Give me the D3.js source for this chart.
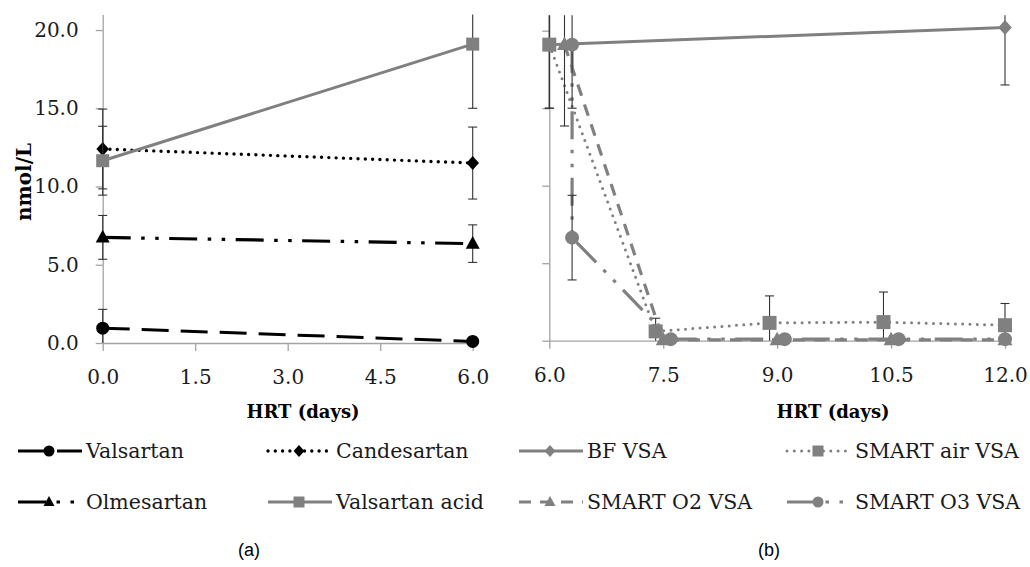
<!DOCTYPE html>
<html>
<head>
<meta charset="utf-8">
<script src="https://cdn.jsdelivr.net/npm/d3@7"></script>
<style>
body { margin: 0; background: #fff; }
svg { display: block; }
.axis path, .axis line { stroke: #a3a3a3; stroke-width: 1.3; }
.axis text { font-family: "DejaVu Serif", serif; font-size: 20px; fill: #1a1a1a; }
</style>
</head>
<body>
<svg id="chart" width="1030" height="567"></svg>
<script>
// panel (a): HRT 0 -> 6 days
const daysA = [0, 6];
const valsartan = [0.95, 0.1];
const valsartanErr = [1.2, 0];
const candesartan = [12.4, 11.5];
const candesartanErr = [2.55, 2.3];
const olmesartan = [6.75, 6.35];
const olmesartanErr = [1.4, 1.2];
const valsartanAcid = [11.65, 19.1];
const valsartanAcidErr = [2.2, 4.1];

// panel (b): HRT 6 -> 12 days
const bfDays = [6.0, 12.0];
const bfVsa = [19.1, 20.2];
const bfVsaErr = [4.1, 3.7];
const airDays = [6.0, 7.4, 8.9, 10.4, 12.0];
const airVsa = [19.1, 0.6, 1.15, 1.2, 1.0];
const airVsaErr = [4.1, 0.85, 1.74, 1.94, 1.4];
const o2Days = [6.2, 7.5, 9.0, 10.5, 12.0];
const o2Vsa = [19.1, 0.05, 0.05, 0.05, 0.05];
const o2VsaErr = [5.25, 0, 0, 0, 0];
const o3Days = [6.3, 6.3, 7.6, 9.1, 10.6, 12.0];
const o3Vsa = [19.1, 6.65, 0.1, 0.1, 0.1, 0.1];
const o3VsaErr = [4.1, 2.73, 0, 0, 0, 0];

const ticksA = [0, 1.5, 3, 4.5, 6];
const ticksB = [6, 7.5, 9, 10.5, 12];
const ticksY = [0, 5, 10, 15, 20];

const black = '#000';
const gray = '#808080';
// line styles
const lgDash = '27 12';
const lgDashDotDot = '28 10.5 3.5 10.5 3.5 10.5';
const roundDot = '0 7.3';
const shortDash = '12 9';

const seriesA = [
    { name: 'Valsartan', x: daysA, y: valsartan, err: valsartanErr, color: black, dash: lgDash, cap: 'butt', w: 3, shape: 'circle', s: 6.5 },
    { name: 'Olmesartan', x: daysA, y: olmesartan, err: olmesartanErr, color: black, dash: lgDashDotDot, cap: 'butt', w: 3.2, shape: 'triangle', s: 14 },
    { name: 'Candesartan', x: daysA, y: candesartan, err: candesartanErr, color: black, dash: roundDot, cap: 'round', w: 3.4, shape: 'diamond', s: 7 },
    { name: 'Valsartan acid', x: daysA, y: valsartanAcid, err: valsartanAcidErr, color: gray, dash: null, cap: 'butt', w: 3, shape: 'square', s: 13 }
];
const seriesB = [
    { name: 'BF VSA', x: bfDays, y: bfVsa, err: bfVsaErr, color: gray, dash: null, cap: 'butt', w: 3, shape: 'diamond', s: 7.5 },
    { name: 'SMART air VSA', x: airDays, y: airVsa, err: airVsaErr, color: gray, dash: roundDot, cap: 'round', w: 3, shape: 'square', s: 14 },
    { name: 'SMART O2 VSA', x: o2Days, y: o2Vsa, err: o2VsaErr, color: gray, dash: shortDash, cap: 'butt', w: 3.2, shape: 'triangle', s: 15 },
    { name: 'SMART O3 VSA', x: o3Days, y: o3Vsa, err: o3VsaErr, color: gray, dash: lgDashDotDot, cap: 'butt', w: 3.2, shape: 'circle', s: 7 }
];

const svg = d3.select('#chart');
const fmt = d3.format('.1f');

function shapePath(shape, s) {
    if (shape === 'circle') return d3.symbol(d3.symbolCircle, Math.PI * s * s)();
    if (shape === 'square') return `M${-s / 2},${-s / 2}h${s}v${s}h${-s}Z`;
    if (shape === 'diamond') return `M0,${-s}L${s * 0.9},0L0,${s}L${-s * 0.9},0Z`;
    // triangle
    const h = s * 0.9;
    return `M0,${-h * 0.6}L${s / 2},${h * 0.4}L${-s / 2},${h * 0.4}Z`;
}

function drawPanel(series, xDomain, xRange, yRange, xTicks, showYLabels) {
    const x = d3.scaleLinear().domain(xDomain).range(xRange);
    const y = d3.scaleLinear().domain([0, 21]).range(yRange);
    const g = svg.append('g');

    // axes
    g.append('g')
        .attr('class', 'axis')
        .attr('transform', `translate(0,${y(0)})`)
        .call(d3.axisBottom(x).tickValues(xTicks).tickFormat(fmt).tickSize(8).tickSizeOuter(0).tickPadding(19));
    g.append('g')
        .attr('class', 'axis')
        .attr('transform', `translate(${x(xDomain[0])},0)`)
        .call(d3.axisLeft(y).tickValues(ticksY).tickFormat(showYLabels ? fmt : '').tickSize(7).tickSizeOuter(0).tickPadding(17));

    series.forEach((sr) => {
        const pts = sr.x.map((d, i) => ({ x: d, y: sr.y[i], e: sr.err[i] }));
        const line = d3.line().x((d) => x(d.x)).y((d) => y(d.y));
        g.append('path')
            .datum(pts)
            .attr('d', line)
            .attr('fill', 'none')
            .attr('stroke', sr.color)
            .attr('stroke-width', sr.w)
            .attr('stroke-linecap', sr.cap)
            .attr('stroke-dasharray', sr.dash);
        // error bars
        const eb = g.append('g').attr('stroke', '#333').attr('stroke-width', 1.1);
        pts.filter((d) => d.e > 0).forEach((d) => {
            const top = Math.min(d.y + d.e, 21);
            const bot = Math.max(d.y - d.e, 0);
            eb.append('line').attr('x1', x(d.x)).attr('x2', x(d.x)).attr('y1', y(top)).attr('y2', y(bot));
            if (top < 21) eb.append('line').attr('x1', x(d.x) - 4.5).attr('x2', x(d.x) + 4.5).attr('y1', y(top)).attr('y2', y(top));
            if (bot > 0) eb.append('line').attr('x1', x(d.x) - 4.5).attr('x2', x(d.x) + 4.5).attr('y1', y(bot)).attr('y2', y(bot));
        });
        g.append('g')
            .selectAll('path')
            .data(pts)
            .enter()
            .append('path')
            .attr('d', shapePath(sr.shape, sr.s))
            .attr('transform', (d) => `translate(${x(d.x)},${y(d.y)})`)
            .attr('fill', sr.color);
    });
}

drawPanel(seriesA, [0, 6], [102.7, 472.7], [343, 14.4], ticksA, true);
drawPanel(seriesB, [6, 12], [549.3, 1005], [340.7, 15.2], ticksB, false);

// axis titles
svg.append('text')
    .attr('transform', 'translate(31,182) rotate(-90)')
    .attr('text-anchor', 'middle')
    .style('font-family', '"DejaVu Serif", serif')
    .style('font-weight', 'bold')
    .style('font-size', '20px')
    .text('nmol/L');
[[303, 'HRT (days)'], [833, 'HRT (days)']].forEach(([cx, t]) => {
    svg.append('text')
        .attr('x', cx).attr('y', 418)
        .attr('text-anchor', 'middle')
        .style('font-family', '"DejaVu Serif", serif')
        .style('font-weight', 'bold')
        .style('font-size', '18px')
        .text(t);
});

// legend (row-major, 4 columns)
const legendOrder = [seriesA[0], seriesA[2], seriesB[0], seriesB[1], seriesA[1], seriesA[3], seriesB[2], seriesB[3]];
const legendCols = [18, 268, 519, 787];
const legendRows = [451, 502];
legendOrder.forEach((sr, i) => {
    const lx = legendCols[i % 4];
    const ly = legendRows[Math.floor(i / 4)];
    const lg = svg.append('g').attr('transform', `translate(${lx},${ly})`);
    lg.append('line')
        .attr('x1', 0).attr('x2', 64).attr('y1', 0).attr('y2', 0)
        .attr('stroke', sr.color)
        .attr('stroke-width', sr.w)
        .attr('stroke-linecap', sr.cap)
        .attr('stroke-dasharray', sr.dash);
    lg.append('path')
        .attr('d', shapePath(sr.shape, sr.shape === 'circle' ? 5.5 : sr.shape === 'diamond' ? 6 : 11))
        .attr('transform', 'translate(31,0)')
        .attr('fill', sr.color);
    lg.append('text')
        .attr('x', 68).attr('y', 0).attr('dy', '0.35em')
        .style('font-family', '"DejaVu Serif", serif')
        .style('font-size', '20.5px')
        .style('fill', '#1a1a1a')
        .text(sr.name);
});

// panel captions
[[249, '(a)'], [769, '(b)']].forEach(([cx, t]) => {
    svg.append('text')
        .attr('x', cx).attr('y', 556)
        .attr('text-anchor', 'middle')
        .style('font-family', '"Liberation Sans", Arial, sans-serif')
        .style('font-size', '18px')
        .text(t);
});
</script>
</body>
</html>
